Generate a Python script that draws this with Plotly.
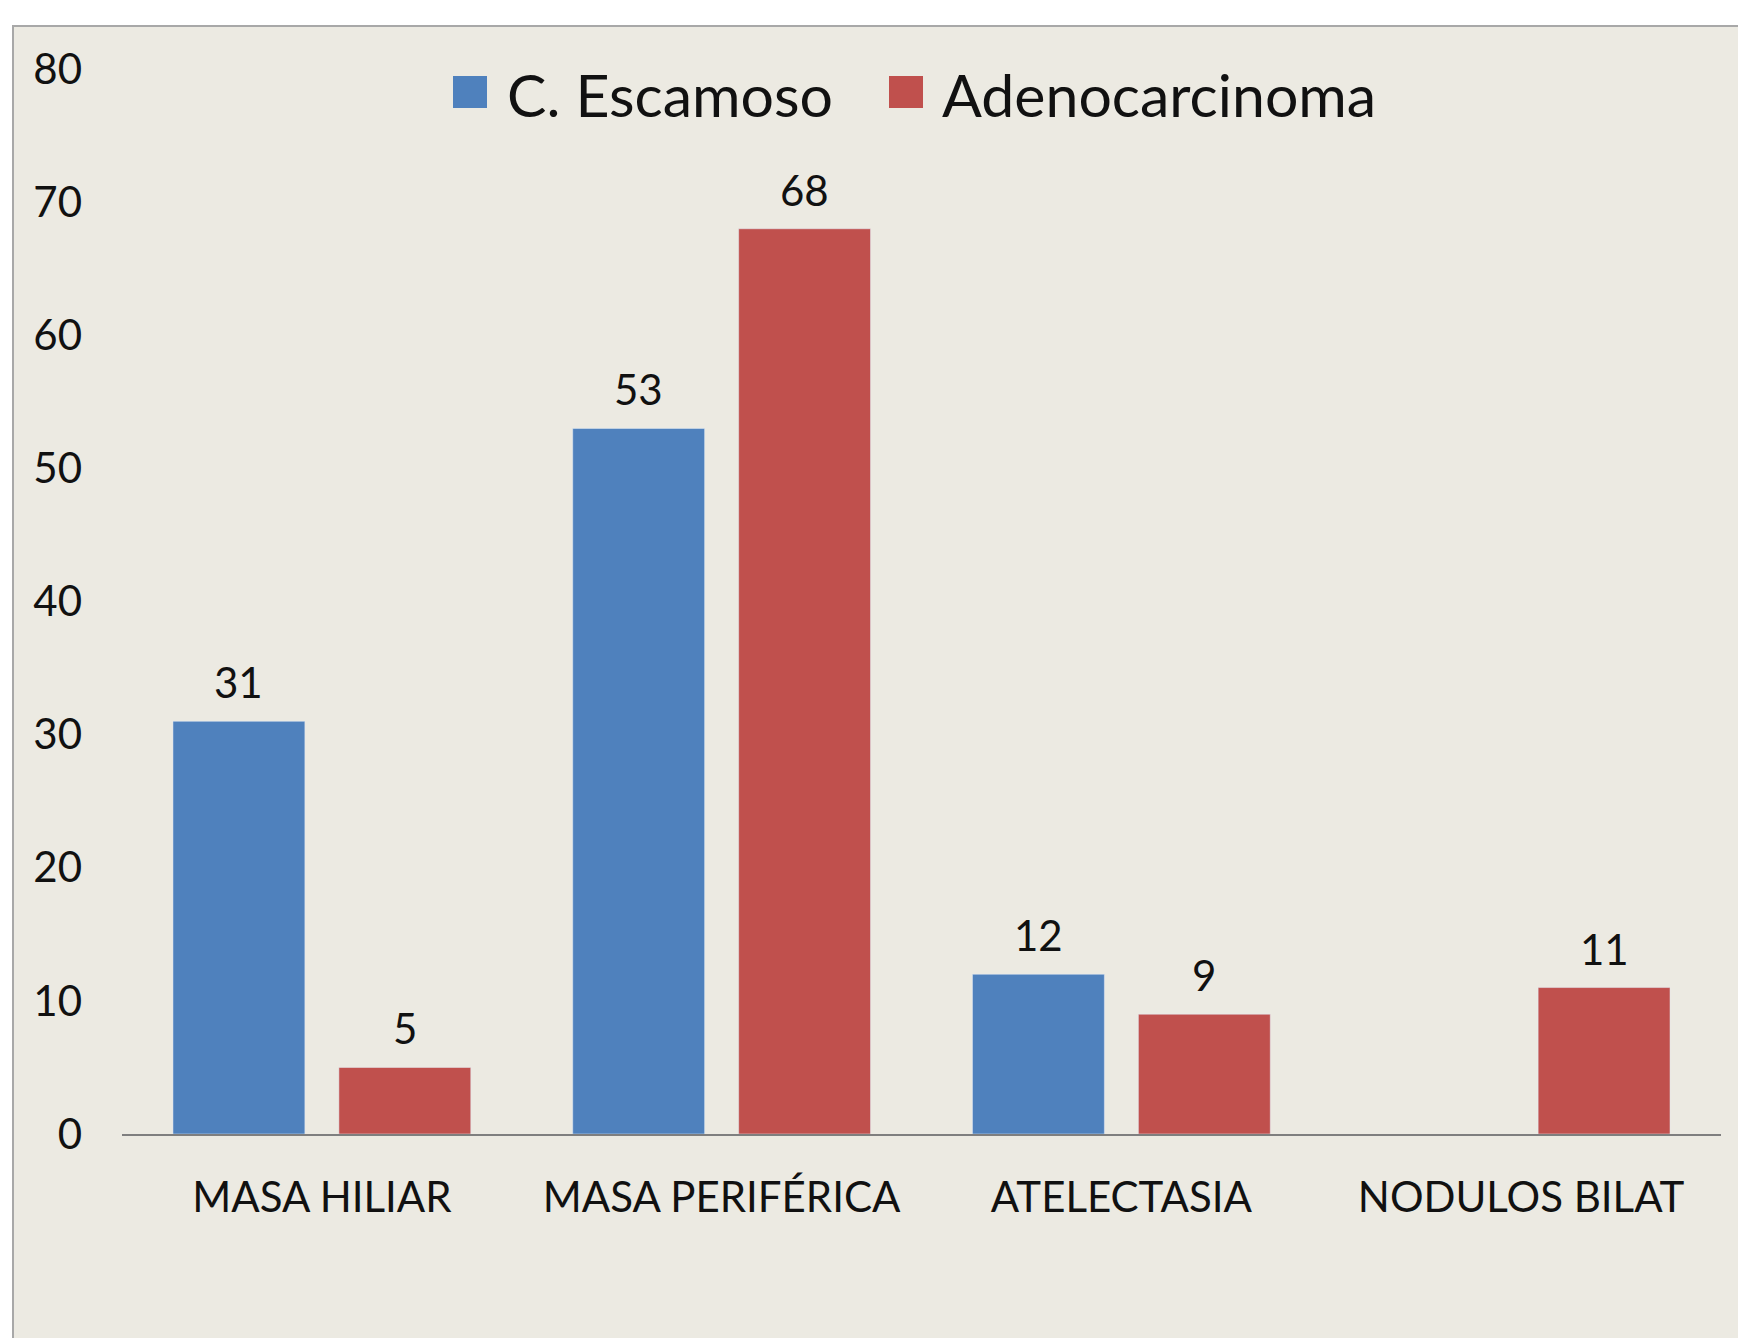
import plotly.graph_objects as go

categories = ["MASA HILIAR", "MASA PERIFÉRICA", "ATELECTASIA", "NODULOS BILAT"]
escamoso = [31, 53, 12, None]
adeno = [5, 68, 9, 11]
series_names = ["C. Escamoso", "Adenocarcinoma"]
y_ticks = [0, 10, 20, 30, 40, 50, 60, 70, 80]

BLUE = "#4F81BD"
RED = "#C0504D"
BG = "#ECEAE2"
FONT = "Lato"

OFF = 8  # default body margin of the html page
W, H = 1746 - OFF, 1338 - OFF
L, R, T, B = 114, 25, 61, 204
pw = W - L - R
ph = H - T - B

BARGAP = 0.17
GROUPGAP = 0.205


def px_x(px):
    return (px - OFF - L) / pw


def px_y(py):
    return (OFF + H - B - py) / ph


fig = go.Figure()
fig.add_trace(go.Bar(x=categories, y=escamoso, name=series_names[0],
                     marker_color=BLUE, showlegend=False))
fig.add_trace(go.Bar(x=categories, y=adeno, name=series_names[1],
                     marker_color=RED, showlegend=False))

shapes = [
    dict(type="rect", xref="paper", yref="paper", layer="below",
         x0=px_x(13), x1=px_x(1800), y0=px_y(1400), y1=px_y(26),
         fillcolor=BG, line=dict(color="#A8A8A8", width=2)),
]
annotations = []

# data labels above bars (category index +/- half a bar slot)
slot = (1 - BARGAP) / 2
for si, vals in enumerate([escamoso, adeno]):
    off = (si - 0.5) * slot
    for ci, v in enumerate(vals):
        if v is None:
            continue
        annotations.append(dict(xref="x", yref="y", x=ci + off, y=v,
                                xanchor="center", yanchor="bottom", yshift=12,
                                showarrow=False, text=str(v),
                                font=dict(size=42, color="#111", family=FONT)))

# manual legend (large squares like the original)
legend_items = [
    (series_names[0], BLUE, 453, 487, 505),
    (series_names[1], RED, 889, 923, 940),
]
for name, col, sx0, sx1, tx in legend_items:
    shapes.append(dict(type="rect", xref="paper", yref="paper",
                       x0=px_x(sx0), x1=px_x(sx1), y0=px_y(108), y1=px_y(76),
                       fillcolor=col, line=dict(width=0)))
    annotations.append(dict(xref="paper", yref="paper", x=px_x(tx), y=px_y(94),
                            xanchor="left", yanchor="middle", showarrow=False,
                            text=name, font=dict(size=59, color="#111", family=FONT)))

fig.update_layout(
    width=W, height=H,
    margin=dict(l=L, r=R, t=T, b=B, pad=0),
    paper_bgcolor="white",
    plot_bgcolor="rgba(0,0,0,0)",
    barmode="group", bargap=BARGAP, bargroupgap=GROUPGAP,
    showlegend=False,
    shapes=shapes, annotations=annotations,
    font=dict(family=FONT, color="#111"),
    xaxis=dict(showline=True, linecolor="#7F7F7F", linewidth=1.5,
               ticks="", showgrid=False, tickfont=dict(size=42, family=FONT, color="#111"),
               ticklabelstandoff=26),
    yaxis=dict(range=[0, 80], tickvals=y_ticks, showline=False, showgrid=False,
               zeroline=False, ticks="", tickfont=dict(size=42, family=FONT, color="#111"),
               ticklabelstandoff=39),
)

fig.write_html("out.html")
